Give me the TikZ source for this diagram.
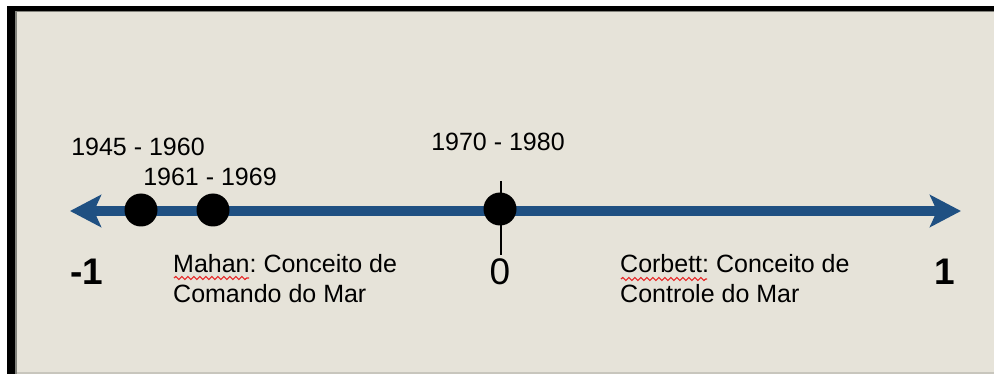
\documentclass[tikz,border=0pt]{standalone}
\usepackage{fontspec}
\setmainfont{Liberation Sans}
\usetikzlibrary{arrows.meta,decorations.pathmorphing}
\frenchspacing
\definecolor{bg}{RGB}{230,227,217}
\definecolor{edgegray}{RGB}{130,130,124}
\definecolor{bottomgray}{RGB}{200,198,189}
\definecolor{axisblue}{RGB}{31,80,130}
\definecolor{squig}{RGB}{230,40,40}
\begin{document}
\begin{tikzpicture}[x=1pt,y=-1pt,
  lbl/.style={inner sep=0pt, font=\fontsize{25}{31}\selectfont\frenchspacing, text=black},
  num/.style={inner sep=0pt, font=\fontsize{37}{40}\selectfont, text=black},
  dot/.style={circle, fill=black, minimum size=33pt, inner sep=0pt},
  axis/.style={line width=10pt, draw=axisblue,
    {Stealth[length=31pt,width=32pt,inset=7pt]}-{Stealth[length=31pt,width=32pt,inset=7pt]}},
  squiggle/.style={draw=squig, line width=1.2pt, decorate,
    decoration={snake, amplitude=1.5pt, segment length=6pt}}]
% frame
\fill[white] (0,0) rectangle (994,374);
\useasboundingbox (0,0) rectangle (994,374);
\fill[black] (7,6) rectangle (994,374);
\fill[edgegray] (15,11) rectangle (994,374);
\fill[bg] (16.5,12.5) rectangle (994,374);
\fill[bottomgray] (16.5,372) rectangle (994,374);
% axis
\coordinate (L) at (70,211);
\coordinate (R) at (961,211);
\draw[axis] (L) -- (R);
% tick at zero
\coordinate (t0) at (501,181);
\coordinate (t1) at (501,255);
\draw[line width=2pt] (t0) -- (t1);
% dots
\node[dot] (d1) at (141,210) {};
\node[dot] (d2) at (213,210) {};
\node[dot] (d3) at (500,209) {};
% period labels
\node[lbl] (y1) at (138,147) {1945 - 1960};
\node[lbl] (y2) at (210,177) {1961 - 1969};
\node[lbl] (y3) at (498,142) {1970 - 1980};
% scale numbers
\node[num, font=\fontsize{37}{40}\selectfont\bfseries, anchor=base] (n1) at (87,284) {-1};
\node[num, anchor=base] (n0) at (500,285) {0};
\node[num, font=\fontsize{37}{40}\selectfont\bfseries, anchor=base] (n2) at (945,284) {1};
% descriptions
\node[lbl, align=left, anchor=base west] (mahan) at (173,303) {Mahan: Conceito de\\Comando do Mar};
\node[lbl, align=left, anchor=base west] (corbett) at (620,303) {Corbett: Conceito de\\Controle do Mar};
% spell-check squiggles
\coordinate (m1) at (174,278);
\coordinate (m2) at (249,278);
\draw[squiggle] (m1) -- (m2);
\coordinate (c1) at (621,279);
\coordinate (c2) at (707,279);
\draw[squiggle] (c1) -- (c2);
\end{tikzpicture}
\end{document}
